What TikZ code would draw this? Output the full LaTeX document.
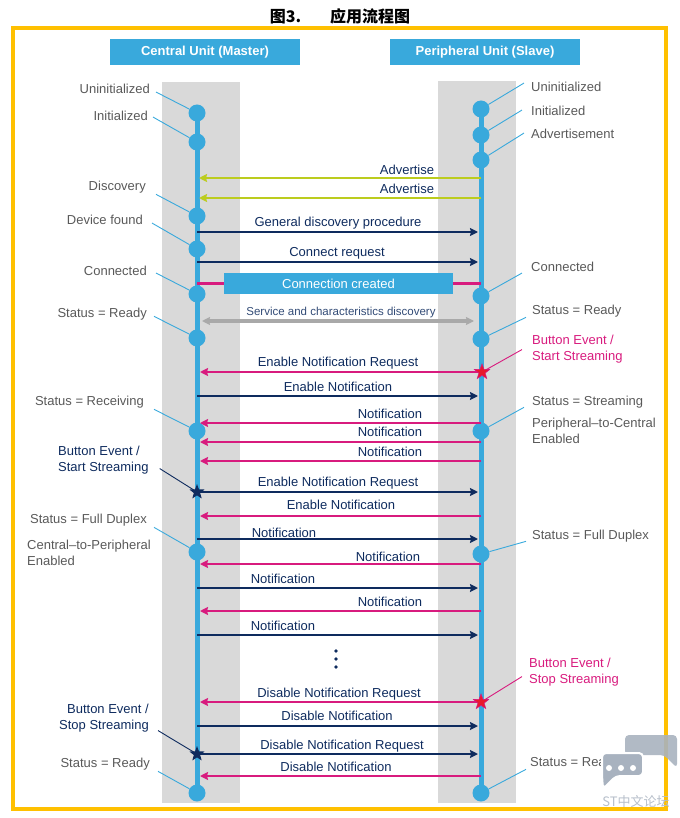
\documentclass[tikz,border=0pt]{standalone}
\usepackage{fontspec}
\setmainfont{Liberation Sans}
\newfontfamily\cjk{Noto Sans CJK SC}
\usetikzlibrary{arrows.meta,positioning,shapes.geometric}
\definecolor{stblue}{HTML}{39A9DC}
\definecolor{navy}{HTML}{0E2B5E}
\definecolor{stmag}{HTML}{D81B7E}
\definecolor{adgreen}{HTML}{BCCC1E}
\definecolor{bandgray}{HTML}{D9D9D9}
\definecolor{txtgray}{HTML}{595959}
\definecolor{framegold}{HTML}{FFC000}
\definecolor{arrgray}{HTML}{A9A9A9}
\definecolor{starred}{HTML}{E8192C}
\definecolor{wmgray}{HTML}{A8B2BF}
\definecolor{wmtext}{HTML}{B7BFCA}

\begin{document}
\begin{tikzpicture}[x=1pt,y=-1pt,>={Stealth[length=8pt,width=8pt,inset=1pt]},
    hdr/.style={fill=stblue,text=white,font=\fontsize{13}{15}\selectfont\bfseries,
      minimum width=190pt,minimum height=26pt,inner sep=0pt},
    sdot/.style={circle,fill=stblue,inner sep=0pt,minimum size=17pt},
    life/.style={draw=stblue,line width=5pt},
    lbl/.style={text=txtgray,font=\fontsize{13}{16}\selectfont,inner sep=0pt},
    evt/.style={font=\fontsize{13}{16}\selectfont,inner sep=0pt},
    msg/.style={text=navy,font=\fontsize{13}{15}\selectfont,inner sep=0pt,anchor=base},
    lead/.style={draw=stblue,line width=0.9pt},
    tonav/.style={->,draw=navy,line width=2.2pt,shorten >=3pt},
    tomag/.style={->,draw=stmag,line width=2.4pt,shorten >=3pt},
    toadv/.style={->,draw=adgreen,line width=2.6pt,shorten >=2pt},
    evstar/.style={star,star points=5,star point ratio=2.4,inner sep=0pt,minimum size=16pt}]
	\useasboundingbox (0,0) rectangle (679,818);
	\node (title) at (340,16.5) {\cjk\fontsize{16}{18}\selectfont\bfseries 图3.\hspace{1.8em}应用流程图};
	\draw[framegold,line width=3.5pt] (13,28) rectangle (666,809);
	\node[hdr] (cu) at (205,52) {Central Unit (Master)};
	\node[hdr] (pu) at (485,52) {Peripheral Unit (Slave)};
	\fill[bandgray] (162,82) rectangle (240,803);
	\fill[bandgray] (438,81) rectangle (516,803);
	\foreach \n/\y in {1/113,2/142,3/216,4/249,5/294,6/338,7/431,8/552,9/793}
		\node[sdot] (c\n) at (197,\y) {};
	\foreach \n/\y in {1/109,2/135,3/160,4/296,5/339,6/431,7/554,8/793}
		\node[sdot] (p\n) at (481,\y) {};
	\draw[life] (c1.center) -- (c9.center);
	\draw[life] (p1.center) -- (p8.center);
	\foreach \n/\x/\y/\t/\sx/\sy in {1/150/89/Uninitialized/6/3, 2/148/116/Initialized/5/1,
			3/146/186/Discovery/10/7, 4/143/220/Device found/9/3, 5/147/271/Connected/9/2,
			6/147/313/Status = Ready/7/2, 7/144/401/Status = Receiving/10/7,
			8/147/519/Status = Full Duplex/7/7, 9/150/763/Status = Ready/8/7}
		{\node[lbl,anchor=base east] (cl\n) at (\x,\y+4.7) {\t};
		\draw[lead] ([shift={(\sx,\sy)}]cl\n.east) -- (c\n);}
	\foreach \n/\x/\y/\t/\sx/\sy in {1/531/87/Uninitialized/-7/-4, 2/531/111/Initialized/-9/-1,
			3/531/134/Advertisement/-7/-1, 4/531/267/Connected/-9/6, 5/532/310/Status = Ready/-6/6,
			6/532/401/Status = Streaming/-8/5, 7/532/535/Status = Full Duplex/-6/5,
			8/530/762/Status = Ready/-4/6}
		{\node[lbl,anchor=base west] (pl\n) at (\x,\y+4.7) {\t};
		\draw[lead] ([shift={(\sx,\sy)}]pl\n.west) -- (p\n);}
	\node[lbl,align=left,anchor=north west] (cp) at (27,540.3) {Central–to-Peripheral\\Enabled};
	\node[lbl,align=left,anchor=north west] (pc) at (532,418.3) {Peripheral–to-Central\\Enabled};
	\foreach \y/\lx/\ly/\t in {178/407/170/Advertise, 198/407/189/Advertise}
		{\coordinate (ml) at (197,\y); \coordinate (mr) at (481,\y);
		\draw[toadv] (mr) -- (ml);
		\node[msg] at (\lx,\ly+4.7) {\t};}
	\foreach \y/\lx/\ly/\t in {232/338/222/General discovery procedure, 262/337/252/Connect request,
			396/338/387/Enable Notification, 539/284/533/Notification, 588/283/579/Notification,
			635/283/626/Notification, 726/337/716/Disable Notification}
		{\coordinate (ml) at (197,\y); \coordinate (mr) at (481,\y);
		\draw[tonav] (ml) -- (mr);
		\node[msg] at (\lx,\ly+4.7) {\t};}
	\foreach \y/\lx/\ly/\t in {423/390/414/Notification, 442/390/432/Notification,
			461/390/452/Notification, 516/341/505/Enable Notification, 564/388/557/Notification,
			611/390/602/Notification, 776/336/767/Disable Notification}
		{\coordinate (ml) at (197,\y); \coordinate (mr) at (481,\y);
		\draw[tomag] (mr) -- (ml);
		\node[msg] at (\lx,\ly+4.7) {\t};}
	\node[fill=stblue,text=white,font=\fontsize{13}{15}\selectfont,minimum width=229pt,
		minimum height=21pt,inner sep=0pt] (cc) at (338.5,283.5) {Connection created};
	\draw[stmag,line width=3pt] (c1 |- cc) -- (cc.west);
	\draw[stmag,line width=3pt] (cc.east) -- (p1 |- cc);
	\coordinate (sl) at (197,321); \coordinate (sr) at (481,321);
	\draw[<->,arrgray,line width=3.5pt,shorten <=5pt,shorten >=7pt] (sl) -- (sr);
	\node[msg,font=\fontsize{11.5}{13}\selectfont,text=navy!85] at (341,315.2) {Service and characteristics discovery};
	\coordinate (ps1) at (482,372);
	\coordinate (ps2) at (481,702);
	\coordinate (cs1) at (197,492);
	\coordinate (cs2) at (197,754);
	\draw[tomag] (ps1) -- (ps1 -| c1);
	\node[msg] at (338,366.7) {Enable Notification Request};
	\draw[tonav] (cs1) -- (cs1 -| p1);
	\node[msg] at (338,486.7) {Enable Notification Request};
	\draw[tomag] (ps2) -- (ps2 -| c1);
	\node[msg] at (339,697.7) {Disable Notification Request};
	\draw[tonav] (cs2) -- (cs2 -| p1);
	\node[msg] at (342,749.7) {Disable Notification Request};
	\foreach \y in {651,659,667}
		\fill[navy] (336,\y) circle (1.8);
	\node[evt,text=stmag,align=left,anchor=north west] (pe1) at (532,335.3) {Button Event /\\Start Streaming};
	\node[evt,text=stmag,align=left,anchor=north west] (pe2) at (529,658.3) {Button Event /\\Stop Streaming};
	\node[evt,text=navy,align=left,anchor=north west] (ce1) at (58,446.3) {Button Event /\\Start Streaming};
	\node[evt,text=navy,align=right,anchor=north east] (ce2) at (149,704.3) {Button Event /\\Stop Streaming};
	\draw[stmag,line width=0.9pt] ([shift={(-10,0)}]pe1.west) -- (ps1);
	\draw[stmag,line width=0.9pt] ([shift={(-7,4)}]pe2.west) -- (ps2);
	\draw[navy,line width=0.9pt] ([shift={(11,8)}]ce1.east) -- (cs1);
	\draw[navy,line width=0.9pt] ([shift={(9,12)}]ce2.east) -- (cs2);
	\node[evstar,fill=starred,draw=stmag,line width=0.6pt] at (ps1) {};
	\node[evstar,fill=starred,draw=stmag,line width=0.6pt] at (ps2) {};
	\node[evstar,fill=navy] at (cs1) {};
	\node[evstar,fill=navy] at (cs2) {};
	\fill[wmgray,opacity=0.9,rounded corners=4pt] (625,735) -- (677,735) -- (677,768) -- (664,755) -- (625,755) -- cycle;
	\filldraw[fill=wmgray,draw=white,line width=2pt,rounded corners=4pt] (602,753) -- (643,753) -- (643,776)
		-- (616,776) -- (603,789) -- (602,776) -- cycle;
	\foreach \x in {609,621,633}
		\fill[white] (\x,768) circle (3);
	\node[text=wmtext,font=\cjk\fontsize{13}{15}\selectfont] (wm) at (636,801) {ST中文论坛};
\end{tikzpicture}
\end{document}
